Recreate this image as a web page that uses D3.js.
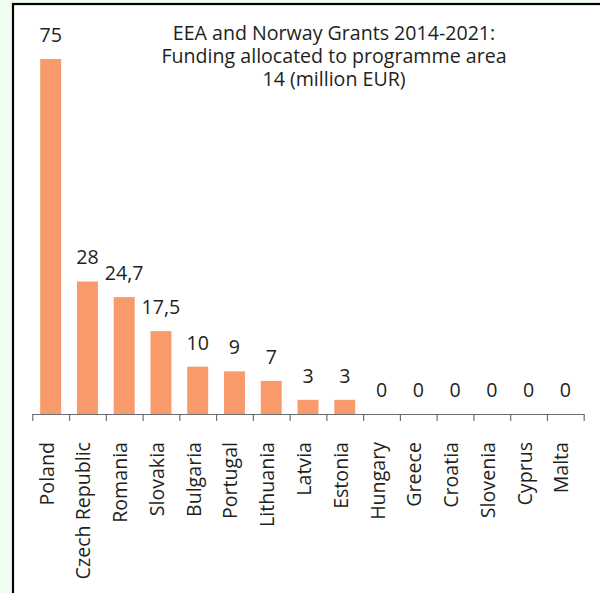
<!DOCTYPE html>
<html>
<head>
<meta charset="utf-8">
<script src="https://cdn.jsdelivr.net/npm/d3@7"></script>
<style>
  html, body { margin: 0; padding: 0; background: #f1fcf1; }
  svg { display: block; font-family: "Open Sans", sans-serif; }
</style>
</head>
<body>
<div id="chart"></div>
<script>
// data
const countries = ["Poland", "Czech Republic", "Romania", "Slovakia", "Bulgaria", "Portugal",
  "Lithuania", "Latvia", "Estonia", "Hungary", "Greece", "Croatia", "Slovenia", "Cyprus", "Malta"];
const funding = [75, 28, 24.7, 17.5, 10, 9, 7, 3, 3, 0, 0, 0, 0, 0, 0];
const titleLines = ["EEA and Norway Grants 2014-2021:", "Funding allocated to programme area", "14 (million EUR)"];

const width = 600, height = 593;
const axisY = 414;
const barColor = "#f99a6b";
const textColor = "#231f20";
const fontSize = "19.6px";

const data = countries.map((c, i) => ({ country: c, value: funding[i] }));

const svg = d3.select("#chart").append("svg")
  .attr("width", width)
  .attr("height", height);

// outer green background + framed white panel
svg.append("rect")
  .attr("width", width).attr("height", height)
  .attr("fill", "#f1fcf1");

svg.append("rect")
  .attr("x", 13).attr("y", 4)
  .attr("width", width + 10).attr("height", height + 10)
  .attr("fill", "#fff")
  .attr("stroke", "#000")
  .attr("stroke-width", 2.2);

const x = d3.scaleBand()
  .domain(countries)
  .range([32.3, 583.7])
  .paddingInner(0.43)
  .paddingOuter(0.215);

const y = d3.scaleLinear()
  .domain([0, 80])
  .range([axisY, axisY - 355 * 80 / 75]);

// tick marks sit on category boundaries
const xEdges = d3.scaleLinear()
  .domain([0, countries.length])
  .range([32.3, 583.7]);

// bars
svg.append("g")
  .selectAll("rect")
  .data(data)
  .join("rect")
  .attr("x", d => x(d.country))
  .attr("width", x.bandwidth())
  .attr("y", d => y(d.value))
  .attr("height", d => y(0) - y(d.value))
  .attr("fill", barColor);

// axis
const axis = svg.append("g")
  .attr("transform", `translate(0,${axisY})`)
  .call(d3.axisBottom(xEdges)
    .tickValues(d3.range(countries.length + 1))
    .tickSize(7)
    .tickSizeOuter(0)
    .tickFormat(""));

axis.select(".domain").attr("stroke", "#6d6e71").attr("stroke-width", 1.2);
axis.selectAll(".tick line").attr("stroke", "#6d6e71").attr("stroke-width", 1.2);

// value labels
const fmt = v => String(v).replace(".", ",");

svg.append("g")
  .selectAll("text")
  .data(data)
  .join("text")
  .attr("x", d => x(d.country) + x.bandwidth() / 2)
  .attr("y", d => y(d.value) - 17)
  .attr("text-anchor", "middle")
  .attr("fill", textColor)
  .style("font-size", fontSize)
  .text(d => fmt(d.value));

// category labels, rotated
svg.append("g")
  .selectAll("text")
  .data(data)
  .join("text")
  .attr("transform", d => `translate(${x(d.country) + x.bandwidth() / 2 + 3},442) rotate(-90)`)
  .attr("text-anchor", "end")
  .attr("fill", textColor)
  .style("font-size", fontSize)
  .text(d => d.country);

// title
svg.append("g")
  .selectAll("text")
  .data(titleLines)
  .join("text")
  .attr("x", 334)
  .attr("y", (d, i) => 39.5 + i * 23)
  .attr("text-anchor", "middle")
  .attr("fill", textColor)
  .style("font-size", fontSize)
  .text(d => d);
</script>
</body>
</html>
